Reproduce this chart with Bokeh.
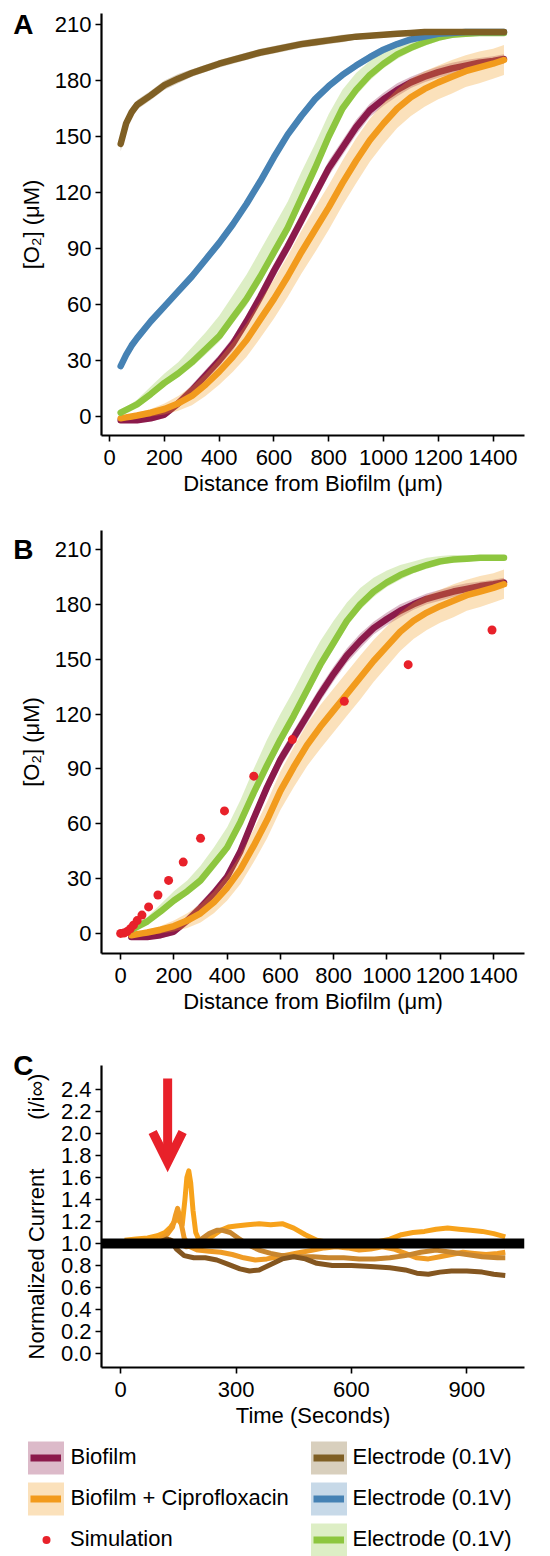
from bokeh.plotting import figure
from bokeh.layouts import column, row
from bokeh.models import (Range1d, FixedTicker, Span, Arrow, OpenHead, LinearAxis,
                          Legend, LegendItem, ColumnDataSource, NumeralTickFormatter)
from bokeh.embed import file_html
from bokeh.resources import INLINE

FONT = "Liberation Sans"

# ---------------- data: O2 profiles ----------------
distance = [40, 60, 80, 100,
            150, 200, 250, 300, 350, 400, 450, 500, 550, 600,
            650, 700, 750, 800, 850, 900, 950, 1000, 1050, 1100,
            1150, 1200, 1250, 1300, 1350, 1400, 1440]

# panel A
biofilm = [-2, -2, -2, -2,
           -1, 1, 7, 14, 22, 30, 39, 51, 64, 78,
           91, 105, 119, 133, 144, 155, 164, 170, 175, 179,
           182, 184.5, 186.5, 188, 189.5, 190.5, 191.5]
cipro = [-1, -0.5, 0, 0.5,
         2, 4, 7, 11, 17, 24, 32, 41, 52, 63,
         75, 88, 100, 112, 125, 137, 148, 157, 165, 171,
         175.5, 179, 182, 185, 187, 189, 191]
electrode_green = [2, 3.5, 5, 6.5,
                   12, 18, 23, 29, 36, 43, 53, 63, 75, 88,
                   101, 117, 133, 150, 165, 175, 183, 189, 194, 197.5,
                   200.5, 203, 204.5, 205, 205.5, 205.5, 205.5]
electrode_blue = [27, 33, 38, 42,
                  51, 59, 67, 75, 84, 93, 103, 114, 126, 139,
                  151, 161, 170, 177, 183, 188, 192.5, 196.5, 199.5, 202,
                  203.5, 205, 205.5, 206, 206, 206, 206]
electrode_brown = [146, 157, 163, 167,
                   172, 177.5, 181, 184, 186.5, 189, 191, 193, 195, 196.5,
                   198, 199.5, 200.5, 201.5, 202.5, 203.5, 204, 204.5, 205, 205.5,
                   206, 206, 206, 206, 206, 206, 206]

# panel B
b_biofilm = [-2, -2, -2, -2,
             -1, 1, 7, 14, 22, 31, 45, 63, 80, 95,
             107, 119, 131, 142, 152, 160, 167, 172, 176.5, 180,
             183, 185, 187, 188.5, 190, 191, 192]
b_cipro = [-1, -0.5, 0, 0.5,
           2, 4, 7, 11, 17, 25, 35, 48, 62, 78,
           91, 103, 113, 122, 131, 140, 149, 157, 165, 171,
           175.5, 179, 182, 185, 187, 189, 191]
b_electrode_green = [2, 3.5, 5, 6.5,
                     12, 18, 23, 29, 38, 47, 61, 77, 92, 106,
                     119, 133, 147, 159, 171, 180, 187, 192, 196, 199,
                     201.5, 203.5, 204.5, 205, 205.5, 205.5, 205.5]

# ribbon half-widths
biofilm_sd = [1, 1, 1, 1,
              1.5, 2, 2.5, 3, 3, 3, 3.5, 3.5, 4, 4,
              4, 4, 4, 4, 4, 4, 3.5, 3.5, 3.5, 3,
              3, 3, 3, 3, 2.5, 2.5, 2.5]
cipro_sd = [1, 1, 1.5, 1.5,
            2, 3, 4, 5, 6, 7, 8, 9, 10, 10.5,
            11, 11.5, 12, 12, 12, 12, 11.5, 11, 10.5, 10,
            9.5, 9, 9, 8.5, 8.5, 8, 8]
green_sd_hi = [1, 1.5, 2, 2.5,
               4, 5, 6, 8, 9, 11, 12, 13, 14, 14,
               14, 14, 13, 12, 10, 9, 7.5, 6.5, 5.5, 4.5,
               4, 3, 2.5, 2, 1.5, 1.5, 1.5]
green_sd_lo = [1, 1, 1, 1,
               1.5, 2, 2, 2.5, 3, 3, 3, 3.5, 3.5, 3.5,
               3.5, 3.5, 3.5, 3.5, 3, 3, 3, 2.5, 2.5, 2,
               2, 2, 1.5, 1.5, 1.5, 1.5, 1.5]
blue_sd = [2.5, 2.5, 2.5, 2.5,
           2.5, 2.5, 2.5, 2.5, 2.5, 2.5, 2.5, 2.5, 2.5, 2.5,
           2.5, 2.5, 2.5, 2, 2, 2, 2, 2, 1.5, 1.5,
           1.5, 1.5, 1, 1, 1, 1, 1]
brown_sd = [4, 3, 3, 2.5,
            2.5, 2.5, 2.5, 2, 2, 2, 2, 2, 2, 2,
            2, 2, 2, 2, 2, 1.5, 1.5, 1.5, 1.5, 1.5,
            1, 1, 1, 1, 1, 1, 1]

# simulation (panel B)
sim_distance = [0, 12, 24, 36, 48, 62, 80, 105, 140, 180, 235, 300, 390, 500, 645, 840, 1080, 1395]
sim_o2 = [0, 0.2, 1, 2.5, 4.5, 7, 10, 14.5, 21, 29, 39, 52, 67, 86, 106, 127, 147, 166]

# ---------------- data: normalized current (panel C) ----------------
t1 = [10, 40, 70, 95, 115, 130, 140, 147, 153, 160, 167, 172, 177, 182, 188,
      195, 205, 220, 240, 260, 280, 300, 330, 360, 390, 420, 450, 480, 510, 540,
      580, 620, 660, 700, 730, 760, 790, 820, 850, 880, 910, 940, 970, 1000]
i1 = [1.03, 1.04, 1.05, 1.07, 1.10, 1.15, 1.20, 1.24, 1.20, 1.17, 1.40, 1.60, 1.66, 1.55, 1.30,
      1.10, 1.02, 1.03, 1.07, 1.12, 1.15, 1.16, 1.17, 1.18, 1.17, 1.18, 1.14, 1.08, 1.03, 1.01,
      1.00, 0.99, 1.01, 1.04, 1.08, 1.10, 1.11, 1.13, 1.14, 1.13, 1.12, 1.11, 1.09, 1.06]

t2 = [10, 60, 100, 120, 135, 142, 148, 155, 165, 180, 200, 230, 260, 290, 320,
      350, 380, 410, 440, 470, 500, 530, 560, 590, 620, 650, 680, 710, 740, 770,
      800, 830, 860, 890, 920, 950, 980, 1000]
i2 = [1.0, 1.01, 1.03, 1.08, 1.15, 1.25, 1.32, 1.22, 1.05, 0.97, 0.94, 0.93, 0.92, 0.90, 0.87,
      0.85, 0.86, 0.88, 0.90, 0.92, 0.94, 0.96, 0.97, 0.96, 0.94, 0.95, 0.97, 0.95, 0.91, 0.87,
      0.86, 0.88, 0.90, 0.92, 0.91, 0.90, 0.91, 0.92]

t3 = [10, 60, 110, 130, 150, 170, 190, 210, 230, 250, 265, 285, 305, 330, 360,
      390, 420, 460, 500, 540, 580, 620, 660, 700, 740, 780, 820, 860, 900, 940,
      980, 1000]
i3 = [1.0, 1.0, 1.01, 1.03, 1.0, 0.97, 0.98, 1.04, 1.09, 1.12, 1.12, 1.10, 1.05, 0.99, 0.94,
      0.91, 0.89, 0.88, 0.88, 0.87, 0.87, 0.86, 0.86, 0.87, 0.89, 0.92, 0.94, 0.92, 0.90, 0.88,
      0.87, 0.87]

t4 = [10, 60, 100, 120, 130, 145, 165, 190, 220, 250, 280, 310, 335, 360, 390,
      420, 450, 480, 510, 550, 600, 650, 700, 740, 770, 800, 830, 860, 900, 940,
      970, 1000]
i4 = [1.0, 1.0, 1.01, 1.04, 1.03, 0.95, 0.89, 0.87, 0.87, 0.85, 0.81, 0.77, 0.75, 0.76, 0.81,
      0.86, 0.88, 0.86, 0.82, 0.80, 0.80, 0.79, 0.78, 0.76, 0.73, 0.72, 0.74, 0.75, 0.75, 0.74,
      0.72, 0.71]

baseline_current = 1.0
cipro_time = 122
arrow_top, arrow_tip = 2.5, 1.74

# ---------------- colours ----------------
MAROON = "#8B1A4B"
ORANGE = "#F29B1D"
BROWN = "#7F5F24"
BLUE = "#4682B4"
GREEN = "#8DC63F"
RED = "#E8212A"
C_COLORS = ["#F7A21B", "#EF9B25", "#C8862F", "#845620"]

W = 550
LEFT, RIGHT = 101, 26


def src(y, sd_lo, sd_hi):
    return ColumnDataSource(dict(x=distance, y=y,
                                 lo=[m - s for m, s in zip(y, sd_lo)],
                                 hi=[m + s for m, s in zip(y, sd_hi)]))


s_bio = src(biofilm, biofilm_sd, biofilm_sd)
s_cip = src(cipro, cipro_sd, cipro_sd)
s_grn = src(electrode_green, green_sd_lo, green_sd_hi)
s_blu = src(electrode_blue, blue_sd, blue_sd)
s_brn = src(electrode_brown, brown_sd, brown_sd)
sb_bio = src(b_biofilm, biofilm_sd, biofilm_sd)
sb_cip = src(b_cipro, cipro_sd, cipro_sd)
sb_grn = src(b_electrode_green, green_sd_lo, green_sd_hi)
s_sim = ColumnDataSource(dict(x=sim_distance, y=sim_o2))


def make_fig(height, xr, yr, top, bottom):
    p = figure(width=W, height=height, x_range=Range1d(*xr), y_range=Range1d(*yr),
               output_backend="svg", toolbar_location=None,
               min_border_left=LEFT, min_border_right=RIGHT,
               min_border_top=top, min_border_bottom=bottom)
    p.outline_line_color = None
    p.grid.visible = False
    p.background_fill_color = "white"
    p.border_fill_color = "white"
    for ax in (p.xaxis[0], p.yaxis[0]):
        ax.axis_line_width = 2.2
        ax.axis_line_color = "black"
        ax.major_tick_line_width = 1.6
        ax.major_tick_line_color = "black"
        ax.major_tick_in = 0
        ax.major_tick_out = 6
        ax.minor_tick_in = 0
        ax.minor_tick_out = 0
        ax.major_label_text_font = FONT
        ax.major_label_text_font_size = "22px"
        ax.major_label_text_color = "black"
        ax.axis_label_text_font = FONT
        ax.axis_label_text_font_size = "22px"
        ax.axis_label_text_font_style = "normal"
        ax.axis_label_text_color = "black"
    p.xaxis[0].major_label_standoff = 8
    p.yaxis[0].major_label_standoff = 4
    p.xaxis[0].axis_label_standoff = 3
    p.yaxis[0].axis_label_standoff = 8
    return p


def letter_axis(p, letter, tick, standoff):
    ax = LinearAxis(ticker=FixedTicker(ticks=[tick]), major_label_overrides={tick: letter},
                    axis_line_color=None, major_tick_line_color=None, minor_tick_line_color=None,
                    major_tick_in=0, major_tick_out=0, minor_tick_in=0, minor_tick_out=0,
                    major_label_standoff=standoff, major_label_text_font=FONT,
                    major_label_text_font_size="28px", major_label_text_font_style="bold",
                    major_label_text_color="black")
    p.add_layout(ax, "left")


def add_profile(p, s, col):
    p.varea(x="x", y1="lo", y2="hi", source=s, fill_color=col, fill_alpha=0.3)
    p.line(x="x", y="y", source=s, line_color=col, line_width=6.5, line_cap="round")


O2_LABEL = "[O\u2082] (\u03bcM)"
DIST_LABEL = "Distance from Biofilm (\u03bcm)"
DIST_TICKS = [0, 200, 400, 600, 800, 1000, 1200, 1400]
O2_TICKS = [0, 30, 60, 90, 120, 150, 180, 210]

# ---------------- Panel A ----------------
pA = make_fig(510, (-30, 1515), (-10.2, 215.9), top=13, bottom=75)
for s, c in [(s_bio, MAROON), (s_cip, ORANGE), (s_grn, GREEN), (s_blu, BLUE), (s_brn, BROWN)]:
    add_profile(pA, s, c)
pA.xaxis[0].ticker = FixedTicker(ticks=DIST_TICKS)
pA.yaxis[0].ticker = FixedTicker(ticks=O2_TICKS)
pA.xaxis[0].axis_label = DIST_LABEL
pA.yaxis[0].axis_label = O2_LABEL
letter_axis(pA, "A", 210, -18)

# ---------------- Panel B ----------------
pB = make_fig(513, (-72, 1517), (-11, 220.4), top=20, bottom=70)
for s, c in [(sb_bio, MAROON), (sb_cip, ORANGE), (sb_grn, GREEN)]:
    add_profile(pB, s, c)
pB.scatter(x="x", y="y", source=s_sim, size=9, fill_color=RED, line_color=None)
pB.xaxis[0].ticker = FixedTicker(ticks=DIST_TICKS)
pB.yaxis[0].ticker = FixedTicker(ticks=O2_TICKS)
pB.xaxis[0].axis_label = DIST_LABEL
pB.yaxis[0].axis_label = O2_LABEL
letter_axis(pB, "B", 210, -18)

# ---------------- Panel C ----------------
pC = make_fig(407, (-50, 1050), (-0.127, 2.618), top=42, bottom=63)
for (tt, ii), c in zip([(t1, i1), (t2, i2), (t3, i3), (t4, i4)], C_COLORS):
    pC.line(x=tt, y=ii, line_color=c, line_width=5, line_join="round")
pC.add_layout(Span(location=baseline_current, dimension="width", line_color="black", line_width=10))
pC.add_layout(Arrow(end=OpenHead(size=30, line_color=RED, line_width=9, line_join="miter"),
                    x_start=cipro_time, y_start=arrow_top, x_end=cipro_time, y_end=arrow_tip,
                    line_color=RED, line_width=9))
pC.xaxis[0].ticker = FixedTicker(ticks=[0, 300, 600, 900])
pC.yaxis[0].ticker = FixedTicker(ticks=[0, 0.2, 0.4, 0.6, 0.8, 1.0, 1.2, 1.4, 1.6, 1.8, 2.0, 2.2, 2.4])
pC.yaxis[0].formatter = NumeralTickFormatter(format="0.0")
pC.xaxis[0].axis_label = "Time (Seconds)"
pC.yaxis[0].axis_label = "Normalized Current" + "\u00a0" * 8 + "(i/i\u221e)"
pC.yaxis[0].axis_label_standoff = 9
letter_axis(pC, "C", 2.615, -13)

# ---------------- Legend panel ----------------
pL = figure(width=W, height=126, x_range=Range1d(-3000, -2000), y_range=Range1d(-3000, -2000),
            output_backend="svg", toolbar_location=None, x_axis_type=None, y_axis_type=None,
            min_border=0, min_border_left=0, min_border_right=0, min_border_top=0,
            min_border_bottom=0)
pL.outline_line_color = None
pL.grid.visible = False
rib, lin = {}, {}
for key, s, c in [("bio", s_bio, MAROON), ("cip", s_cip, ORANGE), ("brn", s_brn, BROWN),
                  ("blu", s_blu, BLUE), ("grn", s_grn, GREEN)]:
    rib[key] = pL.varea(x="x", y1="lo", y2="hi", source=s, fill_color=c, fill_alpha=0.3)
    lin[key] = pL.line(x="x", y="y", source=s, line_color=c, line_width=7, line_cap="butt")
r_sim = pL.scatter(x="x", y="y", source=s_sim, size=9, fill_color=RED, line_color=None)


def make_legend(items, loc, gw, standoff):
    return Legend(items=items, location=loc, glyph_width=gw, glyph_height=41, spacing=0,
                  padding=0, margin=0, label_standoff=standoff, border_line_color=None,
                  background_fill_alpha=0, label_text_font=FONT, label_text_font_size="22px",
                  label_text_color="black", label_height=41)


leg1 = make_legend([LegendItem(label="Biofilm", renderers=[rib["bio"]]),
                    LegendItem(label="Biofilm + Ciprofloxacin", renderers=[rib["cip"]])],
                   (22.5, 37.5), 45, 3)
leg1_lines = make_legend([LegendItem(label=" ", renderers=[lin["bio"]]),
                          LegendItem(label=" ", renderers=[lin["cip"]])],
                         (29.5, 37.5), 31, 0)
leg2 = make_legend([LegendItem(label="Simulation", renderers=[r_sim])], (36, -3.5), 20, 14)
leg3 = make_legend([LegendItem(label="Electrode (0.1V)", renderers=[rib["brn"]]),
                    LegendItem(label="Electrode (0.1V)", renderers=[rib["blu"]]),
                    LegendItem(label="Electrode (0.1V)", renderers=[rib["grn"]])],
                   (305.5, -3.5), 45, 2)
leg3_lines = make_legend([LegendItem(label=" ", renderers=[lin["brn"]]),
                          LegendItem(label=" ", renderers=[lin["blu"]]),
                          LegendItem(label=" ", renderers=[lin["grn"]])],
                         (312.5, -3.5), 31, 0)
for lg in (leg1, leg1_lines, leg2, leg3, leg3_lines):
    pL.add_layout(lg, "center")

layout = column(pA, pB, pC, row(pL), spacing=0)
open("out.html", "w").write(file_html(layout, INLINE, "Oxygen profiles"))
